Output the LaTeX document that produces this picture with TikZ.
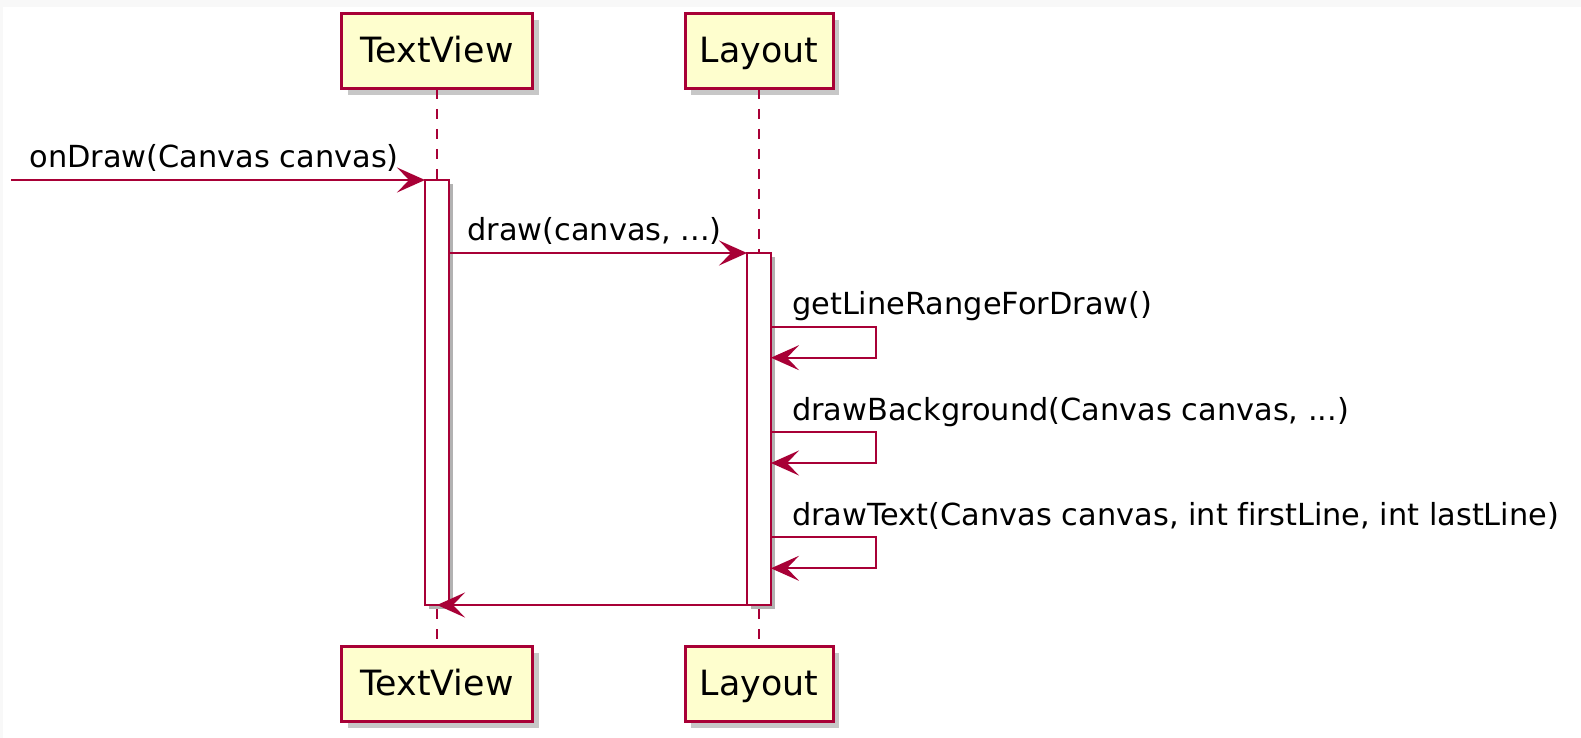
\documentclass[tikz,border=0pt]{standalone}
\usepackage{fontspec}
\setmainfont{DejaVu Sans}[Ligatures=NoCommon]
\usetikzlibrary{arrows.meta,shadows,calc}
\definecolor{umlred}{HTML}{A80036}
\definecolor{umlfill}{HTML}{FEFECE}
\definecolor{edgegray}{HTML}{F8F8F8}
\begin{document}
\begin{tikzpicture}[x=0.5pt,y=-0.5pt,
  participant/.style={draw=umlred, line width=1.5pt, fill=umlfill, minimum height=37.5pt,
    inner sep=0pt, outer sep=0pt, font=\fontsize{17.4}{20}\selectfont,
    text height=13.5pt, text depth=2.5pt,
    drop shadow={shadow xshift=3pt, shadow yshift=-3pt, fill=black, opacity=0.22}},
  act/.style={draw=umlred, line width=1pt, fill=white, minimum width=12pt, inner sep=0pt, outer sep=0pt,
    drop shadow={shadow xshift=2pt, shadow yshift=-2pt, fill=black, opacity=0.3}},
  lifeline/.style={draw=umlred, line width=1pt, dash pattern=on 5pt off 5pt},
  msg/.style={draw=umlred, line width=1pt, -{Stealth[length=14pt,width=12.5pt,inset=6pt]}},
  lbl/.style={anchor=base west, inner sep=0pt, font=\fontsize{15.2}{18}\selectfont}]
\useasboundingbox (0,0) rectangle (1581,738);
\fill[white] (0,0) rectangle (1581,738);
\fill[edgegray] (0,0) rectangle (1581,7);
\fill[edgegray] (0,0) rectangle (3,738);

% participants
\node[participant, minimum width=95.5pt] (tvTop) at (437,51.5) {TextView};
\node[participant, minimum width=74pt] (lyTop) at (759,51.5) {Layout};
\node[participant, minimum width=95.5pt] (tvBot) at (437,684) {TextView};
\node[participant, minimum width=74pt] (lyBot) at (759,684) {Layout};

% lifelines
\draw[lifeline] (tvTop.south) -- (tvBot.north);
\draw[lifeline] (lyTop.south) -- (lyBot.north);

% activations
\node[act, minimum height=212.5pt] (tvAct) at (437,392.5) {};
\node[act, minimum height=176pt] (lyAct) at (759,429) {};

% onDraw
\coordinate (src) at (11,180);
\draw[msg] (src) -- (tvAct.north west);
\node[lbl] (l1) at (29,168) {onDraw(Canvas canvas)};

% draw
\draw[msg] (tvAct.east |- lyAct.north) -- (lyAct.north west);
\node[lbl] (l2) at (467,241) {draw(canvas, ...)};

% self calls
\coordinate (s1a) at (876,326.7); \coordinate (s1b) at (876,357.7);
\draw[msg] (lyAct.east |- s1a) -- (s1a) -- (s1b) -- (lyAct.east |- s1b);
\node[lbl] (l3) at (791.7,314.7) {getLineRangeForDraw()};

\coordinate (s2a) at (876,432); \coordinate (s2b) at (876,463);
\draw[msg] (lyAct.east |- s2a) -- (s2a) -- (s2b) -- (lyAct.east |- s2b);
\node[lbl] (l4) at (791.7,420) {drawBackground(Canvas canvas, ...)};

\coordinate (s3a) at (876,537.3); \coordinate (s3b) at (876,568.3);
\draw[msg] (lyAct.east |- s3a) -- (s3a) -- (s3b) -- (lyAct.east |- s3b);
\node[lbl] (l5) at (791.7,525.3) {drawText(Canvas canvas, int firstLine, int lastLine)};

% return
\draw[msg] (lyAct.south west) -- (tvAct.south);
\end{tikzpicture}
\end{document}
